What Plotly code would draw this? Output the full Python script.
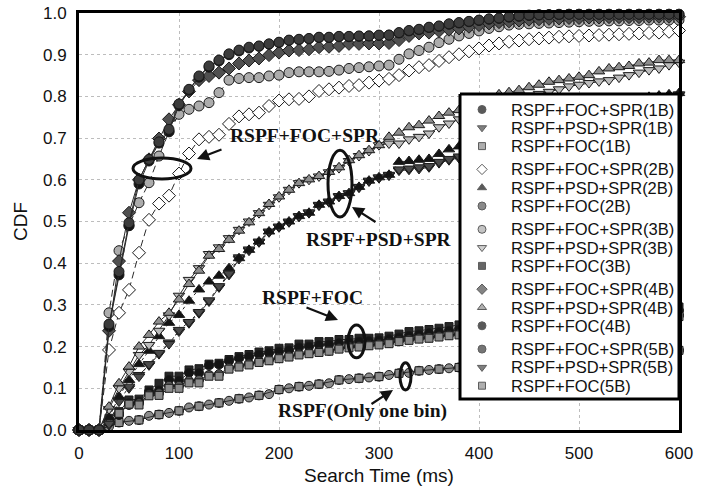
import plotly.graph_objects as go

# ---------------- data ----------------
T = [0, 10, 20, 30, 40, 50, 60, 70, 80, 90, 100, 110, 120, 130, 140, 150, 160, 170, 180, 190,
     200, 210, 220, 230, 240, 250, 260, 270, 280, 290, 300, 310, 320, 330, 340, 350, 360, 370,
     380, 390, 400, 410, 420, 430, 440, 450, 460, 470, 480, 490, 500, 510, 520, 530, 540, 550,
     560, 570, 580, 590, 600]

FOC_SPR_1B = [0, 0, 0, .248, .372, .490, .590, .645, .688, .716, .778, .815, .846, .870, .885,
              .900, .909, .916, .920, .925, .929, .934, .936, .938, .941, .941, .943, .943, .944, .945, .946, .947,
              .952, .957, .960, .965, .968, .973, .976,
              .979, .982, .985, .987, .990, .992, .994, .995, .996, .996, .997, .997, .997, .997, .997, .997, .997, .997, .997, .997, .997, .997]
FOC_SPR_5B = [0, 0, 0, .254, .380, .497, .600, .649, .691, .721, .782, .817, .849, .873, .887,
              .902, .911, .918, .921, .926, .930, .935, .937, .939, .942, .942, .944, .944, .945, .945, .947, .947,
              .953, .958, .961, .966, .969, .974, .977,
              .980, .983, .986, .988, .991, .993, .995, .996, .996, .997, .997, .997, .997, .997, .997, .997, .997, .997, .997, .997, .997, .997]
FOC_SPR_4B = [0, 0, 0, .238, .405, .521, .600, .649, .699, .745, .780, .812, .839, .849, .857,
              .867, .879, .886, .891, .899, .905, .910, .911, .913, .918, .919, .921, .926, .926, .927, .927, .928,
              .935, .945, .951, .953, .957, .960, .963,
              .967, .971, .975, .978, .980, .982, .984, .985, .986, .987, .988, .988, .989, .989, .990, .990, .990, .990, .991, .991, .991, .991]
FOC_SPR_3B = [0, 0, 0, .281, .430, .490, .545, .593, .657, .715, .757, .769, .777, .785, .809,
              .839, .843, .845, .845, .849, .851, .857, .859, .859, .859, .860, .863, .867, .869, .871, .873, .875,
              .889, .902, .910, .918, .929, .937, .945,
              .951, .957, .963, .967, .971, .973, .974, .975, .976, .977, .978, .979, .980, .980, .981, .981, .982, .982, .983, .983, .983, .983]
FOC_SPR_2B = [0, 0, 0, .192, .281, .336, .425, .504, .543, .562, .615, .663, .697, .703, .708,
              .734, .752, .757, .761, .777, .790, .793, .794, .800, .813, .817, .821, .825, .827, .833, .838, .842,
              .851, .862, .870, .875, .885, .894, .901,
              .908, .915, .922, .927, .931, .934, .937, .939, .941, .943, .944, .945, .946, .947, .948, .949, .950, .951, .952, .953, .955, .958]

PSD_SPR_4B = [0, 0, 0, .056, .112, .152, .200, .228, .260, .281, .313, .350, .382, .418, .434,
              .456, .478, .498, .520, .542, .560, .576, .592, .601, .609, .619, .630, .647, .659, .671, .683, .703,
              .713, .726, .731, .742, .753, .761, .767,
              .775, .785, .795, .805, .810, .815, .822, .828, .835, .839, .843, .847, .851, .860, .867, .870, .873, .879, .881, .887, .887, .887]
PSD_SPR_3B = [0, 0, 0, .050, .100, .140, .180, .204, .238, .275, .322, .360, .388, .422, .438,
              .460, .480, .500, .520, .540, .558, .576, .592, .600, .608, .618, .628, .645, .657, .669, .683, .687,
              .687, .697, .703, .711, .726, .735, .745,
              .755, .763, .772, .780, .788, .795, .802, .806, .811, .817, .824, .828, .832, .836, .839, .845, .851, .857, .863, .867, .875, .881]
PSD_SPR_2B = [0, 0, 0, .030, .080, .120, .158, .190, .225, .257, .276, .310, .337, .356, .370,
              .388, .412, .432, .452, .476, .488, .500, .513, .521, .540, .548, .561, .568, .583, .598, .606, .612,
              .643, .645, .648, .650, .662, .673, .680,
              .688, .696, .704, .712, .720, .727, .734, .741, .748, .754, .760, .766, .772, .777, .782, .787, .791, .795, .799, .802, .805, .808]
PSD_SPR_1B = [0, 0, 0, .012, .072, .100, .132, .155, .182, .210, .236, .256, .280, .308, .342,
              .372, .410, .430, .450, .474, .486, .498, .511, .520, .538, .546, .559, .566, .581, .596, .604, .610,
              .622, .624, .626, .630, .640, .647, .652,
              .660, .668, .677, .685, .693, .701, .709, .717, .724, .731, .738, .745, .752, .758, .764, .770, .776, .782, .788, .794, .799, .803]
PSD_SPR_5B = [0, 0, 0, .015, .068, .104, .128, .158, .185, .206, .240, .259, .283, .311, .345,
              .375, .414, .433, .452, .476, .488, .500, .513, .522, .540, .548, .561, .568, .583, .598, .606, .612,
              .625, .627, .630, .633, .643, .650, .656,
              .664, .672, .680, .688, .696, .704, .712, .720, .727, .734, .741, .748, .754, .760, .766, .772, .778, .784, .790, .795, .800, .805]

FOC_3B = [0, 0, 0, .028, .044, .072, .074, .096, .112, .129, .129, .144, .147, .158, .160,
          .169, .176, .181, .187, .190, .196, .197, .206, .206, .212, .212, .217, .217, .220, .220, .221, .225,
          .230, .236, .238, .241, .244, .248, .252,
          .255, .258, .261, .263, .266, .268, .270, .272, .274, .276, .278, .280, .281, .283, .285, .286, .288, .289, .291, .292, .294, .295]
FOC_4B = [0, 0, 0, .018, .036, .064, .068, .092, .095, .120, .118, .137, .136, .155, .157,
          .166, .172, .176, .181, .185, .188, .191, .198, .200, .204, .205, .208, .210, .212, .213, .215, .218,
          .222, .226, .229, .232, .235, .238, .241,
          .244, .247, .250, .252, .255, .257, .259, .261, .263, .265, .267, .269, .271, .273, .275, .277, .278, .280, .282, .283, .285, .286]
FOC_2B = [0, 0, 0, .022, .040, .060, .064, .085, .088, .106, .106, .118, .120, .132, .134,
          .149, .154, .159, .164, .168, .173, .177, .182, .185, .188, .190, .196, .200, .201, .204, .206, .209,
          .214, .217, .220, .222, .225, .228, .230,
          .233, .236, .238, .240, .242, .244, .246, .248, .250, .252, .254, .256, .258, .260, .262, .264, .266, .268, .270, .271, .273, .275]
FOC_5B = [0, 0, 0, .020, .040, .062, .060, .082, .083, .100, .100, .113, .113, .129, .129,
          .146, .151, .156, .162, .166, .171, .175, .180, .183, .186, .189, .194, .197, .199, .202, .204, .207,
          .212, .215, .218, .220, .223, .226, .228,
          .231, .233, .235, .237, .239, .241, .243, .245, .247, .249, .251, .253, .255, .257, .259, .261, .263, .265, .266, .268, .270, .272]
ONE_BIN = [0, 0, 0, .008, .018, .022, .024, .034, .037, .041, .046, .054, .057, .061, .065,
           .070, .075, .078, .083, .086, .097, .100, .104, .106, .110, .112, .120, .122, .124, .126, .128, .132,
           .136, .137, .142, .144, .146, .148, .150,
           .152, .154, .156, .158, .160, .162, .164, .166, .168, .170, .171, .173, .175, .177, .178, .180, .182, .184, .185, .187, .189, .191]

X_TICKS = [0, 100, 200, 300, 400, 500, 600]
Y_TICKS = [0.0, 0.1, 0.2, 0.3, 0.4, 0.5, 0.6, 0.7, 0.8, 0.9, 1.0]

LEGEND_LABELS = ["RSPF+FOC+SPR(1B)", "RSPF+PSD+SPR(1B)", "RSPF+FOC(1B)",
                 "RSPF+FOC+SPR(2B)", "RSPF+PSD+SPR(2B)", "RSPF+FOC(2B)",
                 "RSPF+FOC+SPR(3B)", "RSPF+PSD+SPR(3B)", "RSPF+FOC(3B)",
                 "RSPF+FOC+SPR(4B)", "RSPF+PSD+SPR(4B)", "RSPF+FOC(4B)",
                 "RSPF+FOC+SPR(5B)", "RSPF+PSD+SPR(5B)", "RSPF+FOC(5B)"]

for arr in [FOC_SPR_1B, FOC_SPR_5B, FOC_SPR_4B, FOC_SPR_3B, FOC_SPR_2B, PSD_SPR_4B, PSD_SPR_3B,
            PSD_SPR_2B, PSD_SPR_1B, PSD_SPR_5B, FOC_3B, FOC_4B, FOC_2B, FOC_5B, ONE_BIN]:
    assert len(arr) == len(T), len(arr)

# ---------------- styles ----------------
SANS = "Liberation Sans, Arial, sans-serif"
SERIF = "Liberation Serif, Times New Roman, serif"
OUT = "#1a1a1a"

STYLE = {
    "RSPF+FOC+SPR(1B)": dict(symbol="circle", color="#141414", size=10),
    "RSPF+PSD+SPR(1B)": dict(symbol="triangle-down", color="#4a4a4a", size=10),
    "RSPF+FOC(1B)": dict(symbol="square", color="#8c8c8c", size=8),
    "RSPF+FOC+SPR(2B)": dict(symbol="diamond", color="#ffffff", size=10),
    "RSPF+PSD+SPR(2B)": dict(symbol="triangle-up", color="#141414", size=10),
    "RSPF+FOC(2B)": dict(symbol="circle", color="#5a5a5a", size=9),
    "RSPF+FOC+SPR(3B)": dict(symbol="circle", color="#acacac", size=10),
    "RSPF+PSD+SPR(3B)": dict(symbol="triangle-down", color="#bdbdbd", size=10),
    "RSPF+FOC(3B)": dict(symbol="square", color="#262626", size=8),
    "RSPF+FOC+SPR(4B)": dict(symbol="diamond", color="#505050", size=10),
    "RSPF+PSD+SPR(4B)": dict(symbol="triangle-up", color="#8e8e8e", size=10),
    "RSPF+FOC(4B)": dict(symbol="circle", color="#141414", size=9),
    "RSPF+FOC+SPR(5B)": dict(symbol="circle", color="#3c3c3c", size=10),
    "RSPF+PSD+SPR(5B)": dict(symbol="triangle-down", color="#4a4a4a", size=10),
    "RSPF+FOC(5B)": dict(symbol="square", color="#8c8c8c", size=8),
}

fig = go.Figure()


def add_series(name, xs, ys, dash="solid"):
    st = STYLE[name]
    fig.add_trace(go.Scatter(
        x=xs, y=ys, name=name, mode="lines+markers", showlegend=False, cliponaxis=False,
        line=dict(color="#2a2a2a", width=1, dash=dash),
        marker=dict(symbol=st["symbol"], color=st["color"], size=st["size"],
                    line=dict(color=OUT, width=1)),
        hoverinfo="x+y+name"))


# drawing order: lower groups first
fig.add_trace(go.Scatter(
    x=T, y=ONE_BIN, name="RSPF(Only one bin)", mode="lines+markers", showlegend=False,
    cliponaxis=False, line=dict(color="#2a2a2a", width=1),
    marker=dict(symbol="circle", color="#8c8c8c", size=9, line=dict(color=OUT, width=1))))
add_series("RSPF+FOC(1B)", T[::2], ONE_BIN[::2])
add_series("RSPF+FOC(3B)", T, FOC_3B)
add_series("RSPF+FOC(4B)", T, FOC_4B)
add_series("RSPF+FOC(2B)", T, FOC_2B)
add_series("RSPF+FOC(5B)", T, FOC_5B)
add_series("RSPF+PSD+SPR(1B)", T, PSD_SPR_1B, dash="dash")
add_series("RSPF+PSD+SPR(5B)", T, PSD_SPR_5B, dash="dot")
add_series("RSPF+PSD+SPR(2B)", T, PSD_SPR_2B, dash="dot")
add_series("RSPF+PSD+SPR(3B)", T, PSD_SPR_3B)
add_series("RSPF+PSD+SPR(4B)", T, PSD_SPR_4B)
add_series("RSPF+FOC+SPR(2B)", T, FOC_SPR_2B, dash="7px,4px")
add_series("RSPF+FOC+SPR(3B)", T, FOC_SPR_3B, dash="7px,4px")
add_series("RSPF+FOC+SPR(4B)", T, FOC_SPR_4B)
add_series("RSPF+FOC+SPR(1B)", T, FOC_SPR_1B)
add_series("RSPF+FOC+SPR(5B)", T, FOC_SPR_5B)

# ---------------- custom legend (overlay axes in pixel units) ----------------
PLOT_L, PLOT_R, PLOT_T, PLOT_B = 79, 679, 13, 430
BOX = dict(l=460, r=679, t=94, b=399)
ROW0, ROW_STEP, GROUP_GAP = 109.5, 18.3, 5.0
MARK_X, TEXT_X = 482, 509

fig.add_trace(go.Scatter(
    x=[BOX["l"], BOX["r"], BOX["r"], BOX["l"], BOX["l"]],
    y=[BOX["t"], BOX["t"], BOX["b"], BOX["b"], BOX["t"]],
    xaxis="x2", yaxis="y2", mode="lines", fill="toself", fillcolor="white",
    line=dict(color="black", width=3), showlegend=False, hoverinfo="skip", cliponaxis=False))

row_y = [ROW0 + i * ROW_STEP + (i // 3) * GROUP_GAP for i in range(len(LEGEND_LABELS))]
fig.add_trace(go.Scatter(
    x=[MARK_X] * len(LEGEND_LABELS), y=row_y, xaxis="x2", yaxis="y2", mode="markers",
    marker=dict(symbol=[STYLE[n]["symbol"] for n in LEGEND_LABELS],
                color=[STYLE[n]["color"] for n in LEGEND_LABELS],
                size=[8 if STYLE[n]["symbol"] != "square" else 7 for n in LEGEND_LABELS],
                line=dict(color=OUT, width=1)),
    showlegend=False, hoverinfo="skip", cliponaxis=False))

annotations = []
for name, yy in zip(LEGEND_LABELS, row_y):
    annotations.append(dict(x=TEXT_X, y=yy, xref="x2", yref="y2", text=name, showarrow=False,
                            xanchor="left", yanchor="middle",
                            font=dict(family=SANS, size=16.5, color="#111")))

# ---------------- callouts ----------------
LABELS = [
    dict(text="RSPF+FOC+SPR", x=226, y=0.707),
    dict(text="RSPF+PSD+SPR", x=300, y=0.456),
    dict(text="RSPF+FOC", x=233, y=0.317),
    dict(text="RSPF(Only one bin)", x=283, y=0.045),
]
for lb in LABELS:
    annotations.append(dict(x=lb["x"], y=lb["y"], xref="x", yref="y", text="<b>%s</b>" % lb["text"],
                            showarrow=False, font=dict(family=SERIF, size=19.5, color="#111")))

ARROWS = [
    dict(x=118, y=0.650, ax=26, ay=-10),
    dict(x=273, y=0.535, ax=25, ay=16),
    dict(x=259, y=0.264, ax=-33, ay=-13),
    dict(x=314, y=0.096, ax=-23, ay=15),
]
for ar in ARROWS:
    annotations.append(dict(x=ar["x"], y=ar["y"], xref="x", yref="y", ax=ar["ax"], ay=ar["ay"],
                            text="", showarrow=True, arrowhead=2, arrowsize=1.1, arrowwidth=2.2,
                            arrowcolor="#111"))

ELLIPSES = [
    dict(x0=54, x1=112, y0=0.602, y1=0.652),
    dict(x0=249, x1=273, y0=0.511, y1=0.671),
    dict(x0=269, x1=286, y0=0.173, y1=0.252),
    dict(x0=321, x1=332, y0=0.096, y1=0.161),
]
shapes = [dict(type="circle", xref="x", yref="y", line=dict(color="#111", width=3), **e)
          for e in ELLIPSES]

fig.update_layout(
    width=706, height=486,
    margin=dict(l=PLOT_L, r=706 - PLOT_R, t=PLOT_T, b=486 - PLOT_B, autoexpand=False),
    paper_bgcolor="white", plot_bgcolor="white",
    font=dict(family=SANS, size=16.5, color="#111"),
    showlegend=False,
    xaxis=dict(range=[0, 600], tickvals=X_TICKS, ticktext=[str(v) for v in X_TICKS],
               showgrid=True, gridcolor="#bdbdbd", griddash="dot", gridwidth=1,
               showline=True, linecolor="black", linewidth=3, mirror=True, automargin=False,
               ticks="", zeroline=False, ticklabelstandoff=6, tickfont=dict(size=17),
               title=dict(text="Search Time (ms)", font=dict(family=SANS, size=19), standoff=10)),
    yaxis=dict(range=[0, 1.0], tickvals=Y_TICKS, ticktext=["%.1f" % v for v in Y_TICKS],
               showgrid=True, gridcolor="#bdbdbd", griddash="dot", gridwidth=1,
               showline=True, linecolor="black", linewidth=3, mirror=True, automargin=False,
               ticks="", zeroline=False, ticklabelstandoff=6, tickfont=dict(size=17),
               title=dict(text="CDF", font=dict(family=SANS, size=19), standoff=11)),
    xaxis2=dict(range=[PLOT_L, PLOT_R], overlaying="x", anchor="y2", visible=False, fixedrange=True),
    yaxis2=dict(range=[PLOT_B, PLOT_T], overlaying="y", anchor="x2", visible=False, fixedrange=True),
    annotations=annotations,
    shapes=shapes,
)

fig.write_html("out.html", config={"displayModeBar": False},
               post_script="document.body.style.margin='0px';document.body.style.overflow='hidden';")
